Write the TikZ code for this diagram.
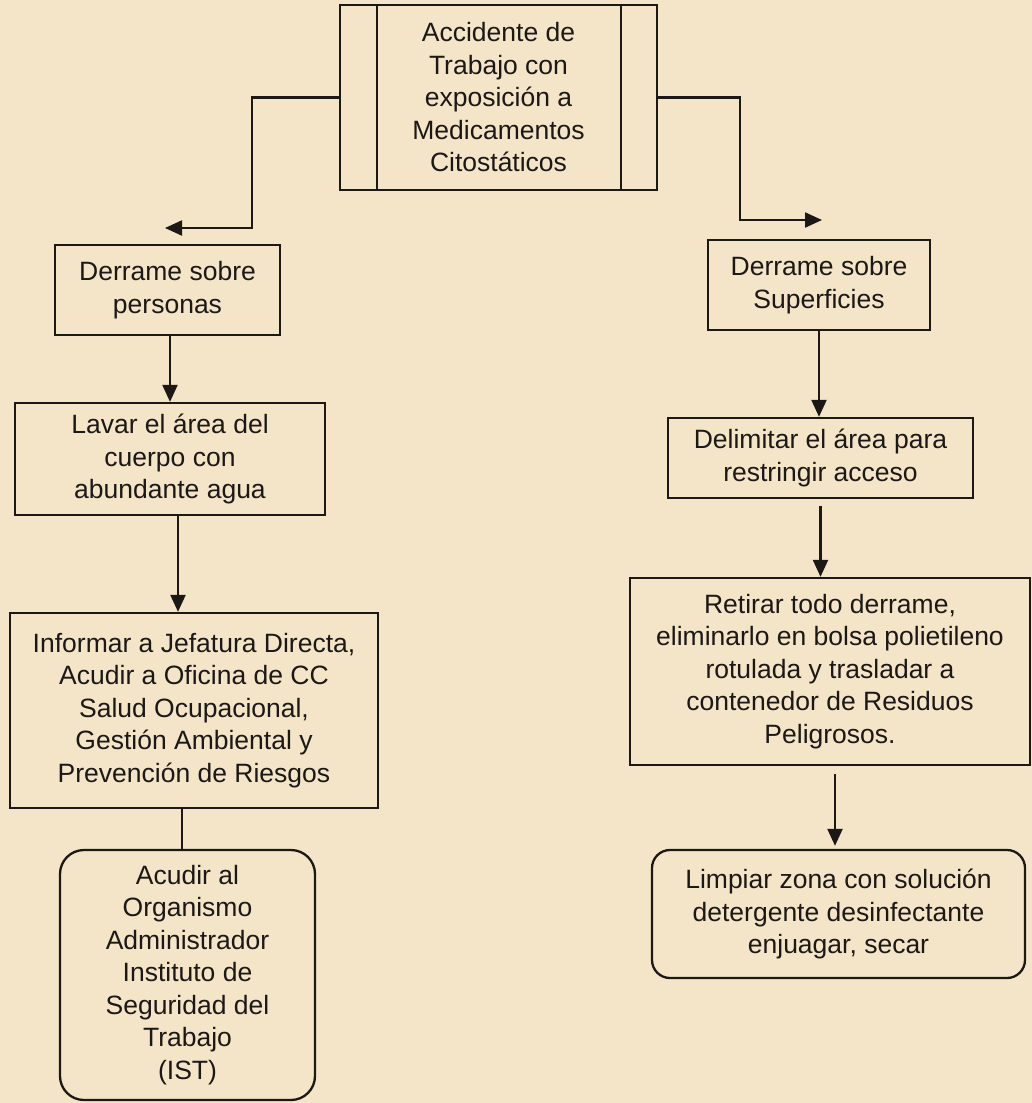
\documentclass[tikz,border=0pt]{standalone}
\usepackage{fontspec}
\setmainfont{Liberation Sans}
\usetikzlibrary{arrows.meta}
\definecolor{paper}{RGB}{244,229,200}
\definecolor{ink}{RGB}{28,24,22}
\begin{document}
\begin{tikzpicture}[x=1pt,y=-1pt,
  box/.style={draw=ink, line width=2.3pt, rectangle, align=center, text=ink,
    font=\fontsize{26.5}{32.5}\selectfont, inner sep=0pt},
  rbox/.style={box, rounded corners=24pt},
  arr/.style={draw=ink, line width=2.2pt, -{Triangle[length=17pt,width=15pt]}},
  ln/.style={draw=ink, line width=2.2pt}]
\fill[paper] (0,0) rectangle (1032,1103);
\useasboundingbox (0,0) rectangle (1032,1103);

% top node
\node[box, minimum width=317pt, minimum height=185pt] (top) at (498.5,97.5)
  {Accidente de\\Trabajo con\\exposición a\\Medicamentos\\Citostáticos};
\draw[ln] ([xshift=38pt]top.north west) -- ([xshift=38pt]top.south west);
\draw[ln] ([xshift=-37pt]top.north east) -- ([xshift=-37pt]top.south east);

% left column
\node[box, minimum width=225pt, minimum height=90pt] (pers) at (167.5,290)
  {Derrame sobre\\personas};
\node[box, minimum width=310pt, minimum height=112pt] (lavar) at (170,459)
  {Lavar el área del\\cuerpo con\\abundante agua};
\node[box, minimum width=368pt, minimum height=195pt] (inf) at (194,710.5)
  {Informar a Jefatura Directa,\\Acudir a Oficina de CC\\Salud Ocupacional,\\Gestión Ambiental y\\Prevención de Riesgos};
\node[rbox, minimum width=255pt, minimum height=250pt] (acud) at (187.5,975)
  {Acudir al\\Organismo\\Administrador\\Instituto de\\Seguridad del\\Trabajo\\(IST)};

% right column
\node[box, minimum width=222pt, minimum height=90pt] (sup) at (819,285)
  {Derrame sobre\\Superficies};
\node[box, minimum width=305pt, minimum height=80pt] (delim) at (820.5,458)
  {Delimitar el área para\\restringir acceso};
\node[box, minimum width=400pt, minimum height=187pt] (ret) at (830,671.5)
  {Retirar todo derrame,\\eliminarlo en bolsa polietileno\\rotulada y trasladar a\\contenedor de Residuos\\Peligrosos.};
\node[rbox, rounded corners=18pt, minimum width=373pt, minimum height=128pt] (limp) at (838.5,914)
  {Limpiar zona con solución\\detergente desinfectante\\enjuagar, secar};

% connectors from top
\coordinate (lk) at (252,228);
\coordinate (le) at (165,228);
\coordinate (rk) at (740,220);
\coordinate (re) at (822,220);
\draw[arr] (top.west) -| (lk) -- (le);
\draw[arr] (top.east) -| (rk) -- (re);

% left chain
\draw[arr] (lavar.north |- pers.south) -- (lavar.north);
\draw[arr] ([xshift=8pt]lavar.south) -- ([xshift=8pt]lavar.south |- inf.north);
\draw[ln] ([xshift=-5.5pt]acud.north |- inf.south) -- ([xshift=-5.5pt]acud.north);

% right chain
\draw[arr] (sup.south) -- (sup.south |- delim.north);
\draw[arr, shorten <=7pt] (delim.south) -- (delim.south |- ret.north);
\draw[arr, shorten <=8pt, shorten >=3pt] ([xshift=5pt]ret.south) -- ([xshift=5pt]ret.south |- limp.north);
\end{tikzpicture}
\end{document}
